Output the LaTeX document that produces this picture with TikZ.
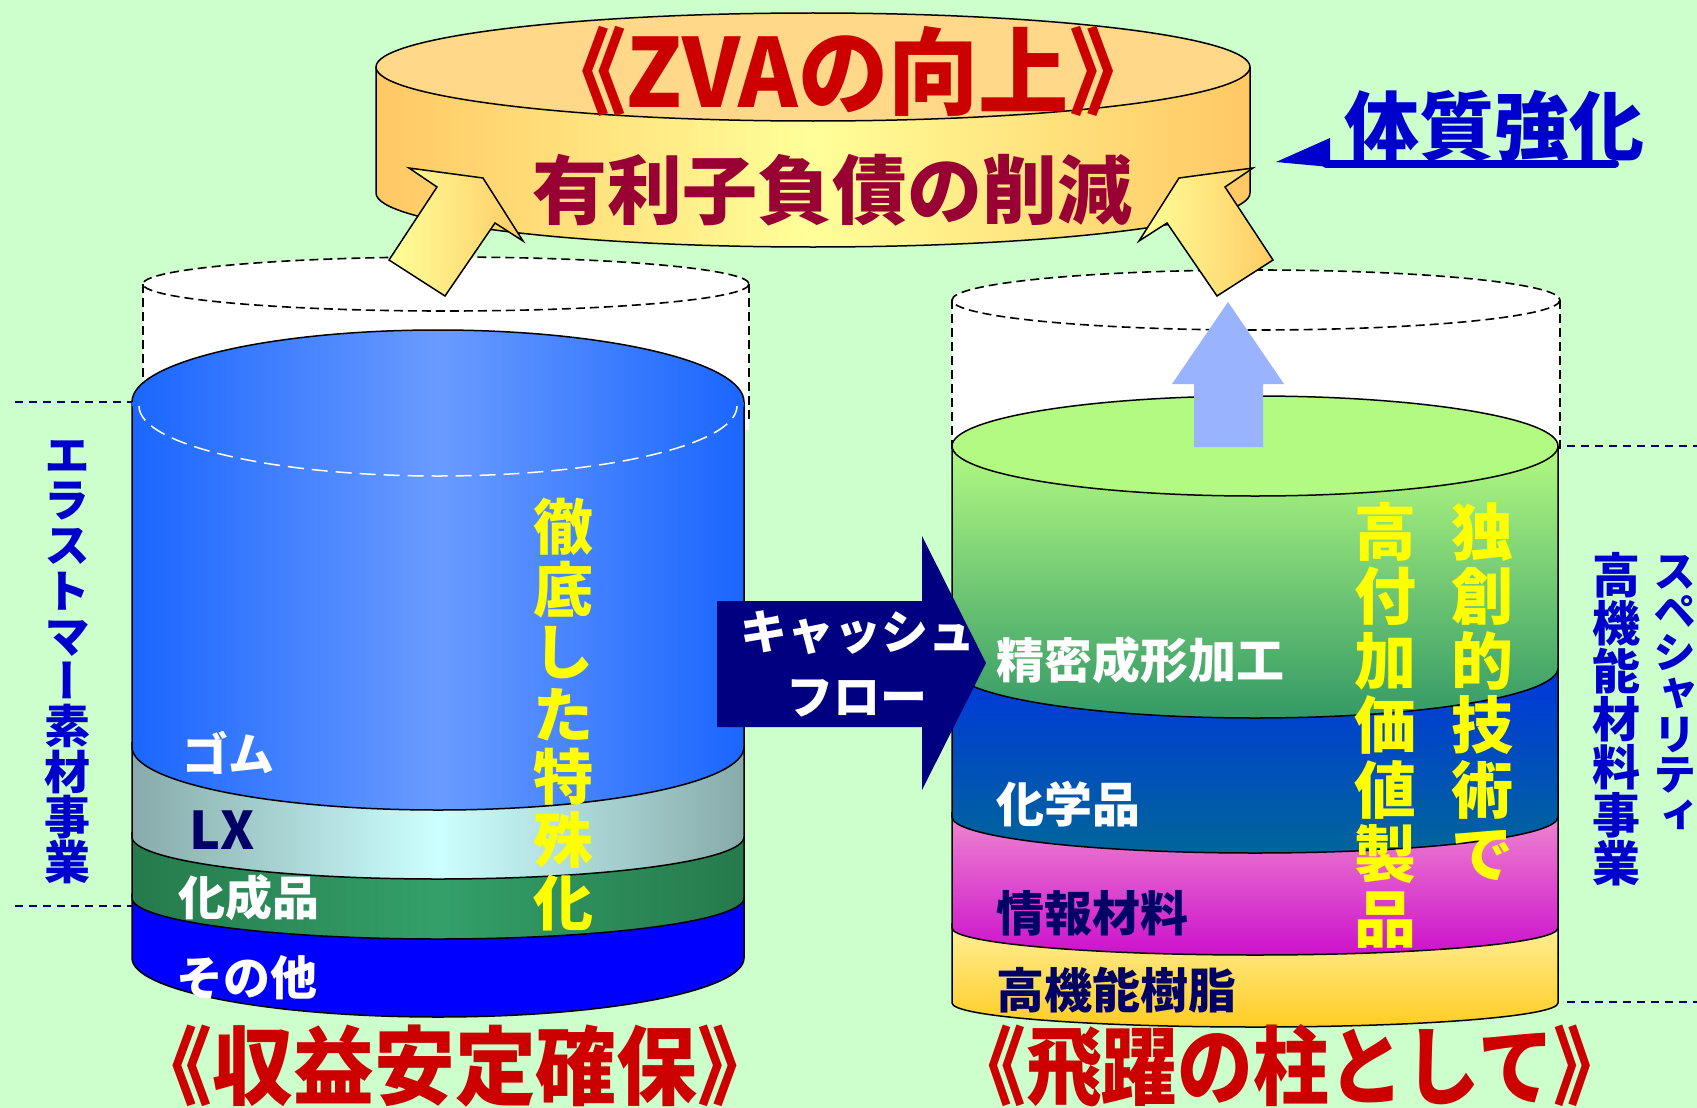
\documentclass[tikz,border=0pt]{standalone}
\usepackage{fontspec}
\usepackage{graphicx}
\newfontfamily\jp{Noto Sans CJK JP}
\newfontfamily\jpv{Noto Sans CJK JP}[RawFeature=+vert]
\definecolor{bg}{HTML}{CCFFCC}
\definecolor{bandTop}{HTML}{FFD88A}
\definecolor{bandEdge}{HTML}{FFC864}
\definecolor{bandMid}{HTML}{FFFF99}
\definecolor{arrA}{HTML}{FFFF99}
\definecolor{arrB}{HTML}{FFCC66}
\definecolor{gumEdge}{HTML}{1A66FF}
\definecolor{gumMid}{HTML}{6A9BFF}
\definecolor{lxEdge}{HTML}{88AAAA}
\definecolor{lxMid}{HTML}{CCFFFF}
\definecolor{kaEdge}{HTML}{267A4C}
\definecolor{kaMid}{HTML}{33A06A}
\definecolor{sonota}{HTML}{0000FF}
\definecolor{grTop}{HTML}{B3FA82}
\definecolor{grBot}{HTML}{339966}
\definecolor{chTop}{HTML}{0035E0}
\definecolor{chBot}{HTML}{006699}
\definecolor{joTop}{HTML}{F088D0}
\definecolor{joBot}{HTML}{CC11CC}
\definecolor{koTop}{HTML}{FFF09A}
\definecolor{koBot}{HTML}{FFCC22}
\definecolor{lightArrow}{HTML}{99B3FF}
\definecolor{cashNavy}{HTML}{000080}
\definecolor{redZ}{HTML}{CC0000}
\definecolor{wine}{HTML}{990033}
\definecolor{royal}{HTML}{0000CC}
\definecolor{navyT}{HTML}{000066}
\definecolor{yel}{HTML}{FFFF00}
\begin{document}
\begin{tikzpicture}[x=1pt,y=-1pt,
  outl/.style={draw=black,line width=1.5pt},
  ghostline/.style={draw=black,line width=1.6pt,dash pattern=on 9pt off 5pt},
  guide/.style={draw=navyT,line width=1.6pt,dash pattern=on 8pt off 6pt},
  lbl/.style={inner sep=0pt,anchor=west},
  vtext/.style={inner sep=0pt,anchor=north,align=center},
  yarrow/.style={left color=arrA,right color=arrB,draw=black,line width=1.5pt,line join=miter},
]
\useasboundingbox (0,0) rectangle (1697,1108);
\clip (0,0) rectangle (1697,1108);
\fill[bg] (0,0) rectangle (1697,1108);

% ---- gold band ----
\shade[left color=bandEdge,right color=bandEdge,middle color=bandMid]
  (376,67) -- (376,193) arc[start angle=180,end angle=0,x radius=437,y radius=54] -- (1250,67) -- cycle;
\draw[outl] (376,67) -- (376,193) arc[start angle=180,end angle=0,x radius=437,y radius=54] -- (1250,67);
\fill[bandTop] (813,67) ellipse (437 and 54);
\draw[outl] (813,67) ellipse (437 and 54);

% ---- ghost cylinders ----
\fill[white] (143,284) rectangle (749,430);
\fill[white] (446,284) ellipse (303 and 27);
\draw[ghostline] (446,284) ellipse (303 and 27);
\draw[ghostline] (143,284) -- (143,420);
\draw[ghostline] (749,284) -- (749,420);

\fill[white] (952,300) rectangle (1560,460);
\fill[white] (1256,300) ellipse (304 and 30);
\draw[ghostline] (1256,300) ellipse (304 and 30);
\draw[ghostline] (952,300) -- (952,450);
\draw[ghostline] (1560,300) -- (1560,450);

% ---- yellow arrows to the band ----
\shade[yarrow] (409,168) -- (483,178) -- (523,241) -- (495,223) -- (445,296) -- (389,260) -- (437,187) -- cycle;
\shade[yarrow] (1253,168) -- (1179,178) -- (1139,241) -- (1167,223) -- (1217,296) -- (1273,260) -- (1225,187) -- cycle;

% ---- left cylinder ----
\fill[sonota] (132,893) -- (132,958) arc[start angle=180,end angle=0,x radius=306,y radius=59] -- (744,893) -- cycle;
\draw[outl] (132,893) -- (132,958) arc[start angle=180,end angle=0,x radius=306,y radius=59] -- (744,893);
\shade[left color=kaEdge,right color=kaEdge,middle color=kaMid]
  (132,832) -- (132,898) arc[start angle=180,end angle=0,x radius=306,y radius=41] -- (744,832) -- cycle;
\draw[outl] (132,832) -- (132,898) arc[start angle=180,end angle=0,x radius=306,y radius=41] -- (744,832);
\shade[left color=lxEdge,right color=lxEdge,middle color=lxMid]
  (132,742) -- (132,837) arc[start angle=180,end angle=0,x radius=306,y radius=42] -- (744,742) -- cycle;
\draw[outl] (132,742) -- (132,837) arc[start angle=180,end angle=0,x radius=306,y radius=42] -- (744,742);
\shade[left color=gumEdge,right color=gumEdge,middle color=gumMid]
  (132,402) -- (132,747) arc[start angle=180,end angle=0,x radius=306,y radius=63] -- (744,402) -- cycle;
\draw[outl] (132,402) -- (132,747) arc[start angle=180,end angle=0,x radius=306,y radius=63] -- (744,402);
\shade[left color=gumEdge,right color=gumEdge,middle color=gumMid] (438,402) ellipse (306 and 72);
\draw[outl] (132,402) arc[start angle=180,end angle=360,x radius=306,y radius=72];
\draw[white,line width=1.5pt,dash pattern=on 16pt off 8pt] (139,406) arc[start angle=180,end angle=0,x radius=299,y radius=70];

% ---- right cylinder ----
\shade[top color=koTop,bottom color=koBot]
  (952,923) -- (952,1003) arc[start angle=180,end angle=0,x radius=303,y radius=24] -- (1558,923) -- cycle;
\draw[outl] (952,923) -- (952,1003) arc[start angle=180,end angle=0,x radius=303,y radius=24] -- (1558,923);
\shade[top color=joTop,bottom color=joBot]
  (952,812) -- (952,928) arc[start angle=180,end angle=0,x radius=303,y radius=27] -- (1558,812) -- cycle;
\draw[outl] (952,812) -- (952,928) arc[start angle=180,end angle=0,x radius=303,y radius=27] -- (1558,812);
\shade[top color=chTop,bottom color=chBot]
  (952,663) -- (952,817) arc[start angle=180,end angle=0,x radius=303,y radius=36] -- (1558,663) -- cycle;
\draw[outl] (952,663) -- (952,817) arc[start angle=180,end angle=0,x radius=303,y radius=36] -- (1558,663);
\shade[top color=grTop,bottom color=grBot]
  (952,446) -- (952,668) arc[start angle=180,end angle=0,x radius=303,y radius=50] -- (1558,446) -- cycle;
\draw[outl] (952,446) -- (952,668) arc[start angle=180,end angle=0,x radius=303,y radius=50] -- (1558,446);
\fill[grTop] (1255,446) ellipse (303 and 50);
\draw[outl] (1255,446) ellipse (303 and 50);

% ---- light blue up arrow ----
\fill[lightArrow] (1194,447) -- (1194,384) -- (1172,384) -- (1228,302) -- (1284,384) -- (1263,384) -- (1263,447) -- cycle;

% ---- cash flow arrow ----
\fill[cashNavy] (717,601) -- (922,601) -- (922,536) -- (986,663) -- (922,790) -- (922,727) -- (717,727) -- cycle;
\node[inner sep=0pt,text=white,font=\jp\bfseries\fontsize{47}{50}\selectfont] (cash1) at (858,633) {キャッシュ};
\node[inner sep=0pt,text=white,font=\jp\bfseries\fontsize{47}{50}\selectfont] (cash2) at (857,698) {フロー};

% ---- band texts ----
\node[inner sep=0pt,text=redZ,font=\jp\bfseries\fontsize{95}{100}\selectfont] (zva) at (848,71) {\scalebox{0.95}[1]{《ZVAの向上》}};
\node[inner sep=0pt,text=wine,font=\jp\bfseries\fontsize{75}{80}\selectfont] (debt) at (832,190) {有利子負債の削減};

% ---- 体質強化 ----
\node[inner sep=0pt,text=royal,font=\jp\bfseries\fontsize{75}{80}\selectfont] (taishitsu) at (1494,126) {体質強化};
\fill[royal] (1276,162) -- (1330,138) -- (1330,167) -- cycle;
\draw[royal,line width=8pt,line cap=round] (1326,164) -- (1615,164);

% ---- left labels ----
\node[lbl,text=white,font=\jp\bfseries\fontsize{46}{50}\selectfont] (gomu) at (182,753) {ゴム};
\node[lbl,text=navyT,font=\jp\bfseries\fontsize{52}{56}\selectfont] (lx) at (189,830) {LX};
\node[lbl,text=white,font=\jp\bfseries\fontsize{47}{50}\selectfont] (kasei) at (178,898) {化成品};
\node[lbl,text=white,font=\jp\bfseries\fontsize{47}{50}\selectfont] (sonota) at (176,978) {その他};

% ---- right labels ----
\node[lbl,text=white,font=\jp\bfseries\fontsize{48}{50}\selectfont] (seimitsu) at (996,660) {精密成形加工};
\node[lbl,text=white,font=\jp\bfseries\fontsize{48}{50}\selectfont] (kagaku) at (996,804) {化学品};
\node[lbl,text=navyT,font=\jp\bfseries\fontsize{48}{50}\selectfont] (joho) at (996,913) {情報材料};
\node[lbl,text=navyT,font=\jp\bfseries\fontsize{48}{50}\selectfont] (kokino) at (996,990) {高機能樹脂};

% ---- vertical yellow texts ----
\node[vtext,text=yel,font=\jp\bfseries\fontsize{60}{62.6}\selectfont] (tettei) at (563,498) {徹\\底\\し\\た\\特\\殊\\化};
\node[vtext,text=yel,font=\jp\bfseries\fontsize{62}{64.5}\selectfont] (kofuka) at (1385,502) {高\\付\\加\\価\\値\\製\\品};
\node[vtext,text=yel,font=\jp\bfseries\fontsize{62}{64.5}\selectfont] (dokuso) at (1482,502) {独\\創\\的\\技\\術\\で};

% ---- side labels ----
\node[vtext,text=royal,font=\jpv\bfseries\fontsize{46}{45.3}\selectfont] (elast) at (67,440) {エ\\ラ\\ス\\ト\\マ\\ー\\素\\材\\事\\業};
\node[vtext,text=royal,font=\jpv\bfseries\fontsize{48}{48}\selectfont] (kokinoz) at (1616,552) {高\\機\\能\\材\\料\\事\\業};
\node[vtext,text=royal,font=\jpv\bfseries\fontsize{43}{40.7}\selectfont] (special) at (1675,555) {ス\\ペ\\シ\\ャ\\リ\\テ\\ィ};

% ---- guide lines ----
\coordinate (gl1a) at (15,402); \coordinate (gl1b) at (132,402);
\coordinate (gl2a) at (15,906); \coordinate (gl2b) at (132,906);
\coordinate (gr1a) at (1567,446); \coordinate (gr1b) at (1697,446);
\coordinate (gr2a) at (1567,1002); \coordinate (gr2b) at (1697,1002);
\draw[guide] (gl1a) -- (gl1b);
\draw[guide] (gl2a) -- (gl2b);
\draw[guide] (gr1a) -- (gr1b);
\draw[guide] (gr2a) -- (gr2b);

% ---- bottom titles ----
\node[inner sep=0pt,text=redZ,font=\jp\bfseries\fontsize{86}{90}\selectfont] (shueki) at (455,1066) {\scalebox{0.94}[1]{《収益安定確保》}};
\node[inner sep=0pt,text=redZ,font=\jp\bfseries\fontsize{86}{90}\selectfont] (hiyaku) at (1290,1066) {\scalebox{0.88}[1]{《飛躍の柱として》}};
\end{tikzpicture}
\end{document}
